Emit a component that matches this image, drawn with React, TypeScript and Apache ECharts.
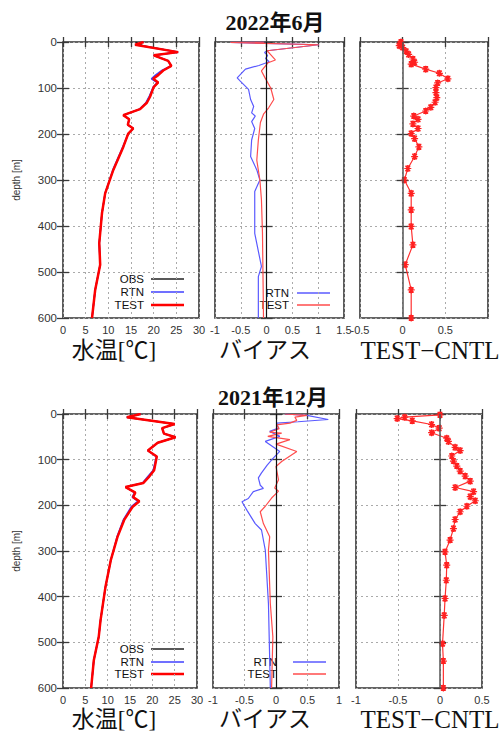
import React, { useEffect, useRef } from 'react';
import * as echarts from 'echarts';

// ---------- Data: 2022年6月 ----------
// Water temperature [°C]
const obsDepthJun = [0, 8, 22, 29, 41, 52, 62, 72, 80, 88, 98, 119, 132, 146, 159, 168, 180, 188, 199, 228, 278, 329, 372, 437, 484, 539, 600];
const obsTempJun = [16.0, 17.6, 25.3, 20.0, 23.2, 23.9, 22.0, 20.8, 19.8, 21.0, 20.0, 19.1, 18.4, 16.9, 13.3, 14.6, 14.3, 15.5, 14.4, 13.3, 11.1, 9.3, 8.6, 8.0, 8.2, 7.1, 6.4];
const tempDepthJun = [0, 6, 22, 29, 41, 52, 62, 72, 80, 88, 98, 119, 132, 146, 159, 168, 180, 188, 199, 228, 278, 329, 372, 437, 484, 539, 600];
const rtnTempJun = [17.8, 15.9, 25.4, 20.0, 23.2, 23.8, 21.8, 20.4, 19.5, 20.8, 19.9, 19.0, 18.3, 16.9, 13.3, 14.6, 14.3, 15.5, 14.4, 13.2, 11.0, 9.3, 8.6, 8.0, 8.2, 7.1, 6.4];
const testTempJun = [17.8, 15.9, 25.4, 20.0, 23.2, 23.9, 22.1, 21.0, 19.9, 21.0, 20.0, 19.2, 18.5, 17.0, 13.3, 14.6, 14.3, 15.5, 14.4, 13.3, 11.1, 9.3, 8.6, 8.0, 8.2, 7.1, 6.4];
// Bias
const rtnBiasDepthJun = [0, 1, 6, 19, 23, 29, 36, 43, 51, 59, 78, 85, 103, 125, 140, 154, 161, 173, 188, 213, 249, 278, 300, 325, 416, 488, 510, 600];
const rtnBiasJun = [-0.05, -0.70, 1.01, 0.01, -0.04, 0.02, -0.02, 0.05, -0.15, -0.41, -0.57, -0.51, -0.35, -0.31, -0.25, -0.29, -0.22, -0.29, -0.23, -0.29, -0.31, -0.19, -0.13, -0.23, -0.23, -0.10, -0.16, -0.16];
const testBiasDepthJun = [0, 1, 6, 19, 30, 39, 45, 63, 78, 100, 125, 143, 157, 175, 213, 257, 300, 343, 416, 600];
const testBiasJun = [-0.05, -0.70, 1.01, 0.01, 0.10, 0.17, 0.03, -0.10, -0.03, 0.08, 0.14, 0.04, -0.06, -0.12, -0.16, -0.19, -0.13, -0.10, -0.08, -0.06];
// TEST − CNTL
const diffDepthJun = [0, 4, 8, 12, 20, 27, 37, 44, 48, 59, 68, 80, 89, 99, 110, 121, 131, 142, 150, 161, 168, 178, 188, 199, 210, 228, 249, 275, 300, 329, 365, 401, 441, 484, 539, 600];
const diffJun = [-0.02, -0.03, -0.04, 0.0, 0.04, 0.07, 0.12, 0.14, 0.10, 0.27, 0.43, 0.53, 0.41, 0.39, 0.39, 0.40, 0.38, 0.33, 0.27, 0.13, 0.18, 0.12, 0.18, 0.10, 0.14, 0.19, 0.14, 0.06, 0.02, 0.10, 0.10, 0.10, 0.12, 0.03, 0.10, 0.10];

// ---------- Data: 2021年12月 ----------
const tempDepthDec = [0, 7, 22, 31, 43, 51, 63, 80, 93, 123, 137, 151, 160, 172, 182, 191, 203, 232, 269, 320, 379, 452, 488, 539, 600];
const obsTempDec = [17.4, 14.3, 25.0, 22.2, 22.6, 25.2, 21.2, 19.0, 21.0, 20.4, 19.3, 18.0, 14.0, 16.2, 15.7, 17.0, 15.6, 13.6, 12.2, 10.7, 9.5, 8.4, 8.0, 6.9, 6.3];
const rtnTempDec = [17.4, 14.3, 25.0, 22.2, 22.6, 25.2, 21.2, 19.0, 20.9, 20.2, 19.0, 17.8, 14.0, 16.0, 15.5, 16.8, 15.3, 13.5, 12.1, 10.7, 9.5, 8.4, 8.0, 6.9, 6.3];
const testTempDec = [17.4, 14.3, 25.0, 22.2, 22.6, 25.2, 21.2, 19.0, 21.0, 20.4, 19.3, 18.0, 14.0, 16.2, 15.7, 17.1, 15.6, 13.7, 12.2, 10.7, 9.5, 8.4, 8.0, 6.9, 6.3];
const rtnBiasDepthDec = [0, 3, 12, 17, 20, 31, 38, 49, 60, 82, 96, 112, 129, 140, 156, 163, 170, 185, 192, 211, 240, 254, 298, 415, 600];
const rtnBiasDec = [0.14, 0.49, 0.83, 0.35, 0.01, 0.04, -0.10, 0.06, -0.17, 0.06, -0.04, -0.14, -0.23, -0.28, -0.25, -0.20, -0.36, -0.44, -0.54, -0.46, -0.33, -0.23, -0.17, -0.12, -0.09];
const testBiasDepthDec = [0, 3, 7, 14, 20, 24, 32, 40, 42, 49, 56, 66, 82, 104, 115, 144, 162, 169, 184, 202, 214, 240, 269, 298, 415, 488, 600];
const testBiasDec = [0.14, 0.49, 0.30, 0.33, 0.22, 0.01, 0.05, -0.10, 0.09, -0.13, 0.22, 0.0, 0.33, 0.09, 0.0, 0.04, -0.02, 0.04, -0.07, -0.17, -0.25, -0.20, -0.10, -0.12, -0.09, -0.05, -0.07];
const diffDepthDec = [2, 7, 10, 15, 23, 31, 41, 53, 60, 73, 80, 92, 103, 114, 125, 136, 147, 161, 170, 181, 190, 202, 214, 231, 251, 276, 302, 331, 364, 404, 441, 503, 541, 600];
const diffDec = [0.0, -0.42, -0.51, -0.33, -0.10, -0.01, -0.10, 0.08, 0.10, 0.18, 0.24, 0.14, 0.16, 0.20, 0.24, 0.30, 0.36, 0.18, 0.40, 0.36, 0.42, 0.32, 0.24, 0.18, 0.16, 0.12, 0.06, 0.08, 0.075, 0.06, 0.05, 0.03, 0.04, 0.04];

// ---------- Axis settings ----------
const xRanges: [number, number, number][] = [
  [0, 30, 5],
  [-1, 1.5, 0.5],
  [-0.5, 1, 0.5],
  [0, 30, 5],
  [-1, 1, 0.5],
  [-1, 0.5, 0.5],
];
const titles = ['2022年6月', '2021年12月'];
const panelLabels = ['水温[℃]', 'バイアス', 'TEST−CNTL'];

const W = 502;
const H = 731;

const gridBoxes = [
  { left: 63, top: 42, width: 136, height: 276 },
  { left: 215, top: 42, width: 129, height: 276 },
  { left: 360, top: 42, width: 128, height: 276 },
  { left: 63, top: 414, width: 134, height: 274 },
  { left: 213, top: 414, width: 126, height: 274 },
  { left: 356, top: 414, width: 126, height: 274 },
];

const SANS = '"Liberation Sans", Arial, sans-serif';
const SERIF = '"Liberation Serif", "Noto Sans CJK JP", serif';
const AX = '#3a3a3a';

const pair = (depths: number[], vals: number[]) => vals.map((v, i) => [v, depths[i]]);

const STAR = 'path://M5,0L5,10M0,5L10,5M1.5,1.5L8.5,8.5M1.5,8.5L8.5,1.5M1.5,1.5L8.5,1.5M1.5,8.5L8.5,8.5';

function buildOption() {
  const xAxis: any[] = [];
  const yAxis: any[] = [];
  gridBoxes.forEach((_, i) => {
    const [mn, mx, iv] = xRanges[i];
    xAxis.push({
      type: 'value', gridIndex: i, position: 'bottom', min: mn, max: mx, interval: iv,
      axisLine: { show: false },
      axisTick: { show: true, inside: true, length: 5, lineStyle: { color: AX, width: 1.3 } },
      axisLabel: {
        show: true, margin: 6, fontSize: 11, color: '#333', fontFamily: SANS,
        formatter: (v: number) => (i === 2 && v === 1 ? '' : String(v)),
      },
      splitLine: { show: true, lineStyle: { color: '#aaa', width: 1, type: [2, 3] } },
    });
    xAxis.push({
      type: 'value', gridIndex: i, position: 'top', min: mn, max: mx, interval: iv,
      axisLine: { show: false },
      axisTick: { show: true, inside: true, length: 5, lineStyle: { color: AX, width: 1.3 } },
      axisLabel: { show: false },
      splitLine: { show: false },
    });
    const first = i === 0 || i === 3;
    yAxis.push({
      type: 'value', gridIndex: i, position: 'left', min: 0, max: 600, interval: 100, inverse: true,
      name: first ? 'depth [m]' : '', nameLocation: 'middle', nameGap: 42, nameRotate: 90,
      nameTextStyle: { fontSize: 10, color: '#333', fontFamily: SANS },
      axisLine: { show: false },
      axisTick: { show: true, inside: true, length: 6, lineStyle: { color: AX, width: 1.3 } },
      axisLabel: { show: first, margin: 6, fontSize: 11.5, color: '#333', fontFamily: SANS },
      splitLine: { show: true, lineStyle: { color: '#aaa', width: 1, type: [2, 3] } },
    });
    yAxis.push({
      type: 'value', gridIndex: i, position: 'right', min: 0, max: 600, interval: 100, inverse: true,
      axisLine: { show: false },
      axisTick: { show: true, inside: true, length: 6, lineStyle: { color: AX, width: 1.3 } },
      axisLabel: { show: false },
      splitLine: { show: false },
    });
  });

  const lineS = (name: string, panel: number, data: number[][], color: string, width: number, z = 2, extra: any = {}) => ({
    name, type: 'line', xAxisIndex: panel * 2, yAxisIndex: panel * 2, data,
    symbol: 'none', showSymbol: false, z,
    lineStyle: { color, width }, itemStyle: { color },
    ...extra,
  });

  const zeroLine = (color: string, width: number) => ({
    silent: true, symbol: ['none', 'none'], label: { show: false },
    lineStyle: { color, width, type: 'solid' },
    data: [{ xAxis: 0 }],
  });

  const diffS = (panel: number, data: number[][]) => ({
    name: 'TEST−CNTL', type: 'line', xAxisIndex: panel * 2, yAxisIndex: panel * 2, data,
    symbol: STAR, symbolSize: 7, showSymbol: true, z: 3,
    lineStyle: { color: '#ff3030', width: 1.2 },
    itemStyle: { color: '#ff2020', borderColor: '#ff2020', borderWidth: 1.2 },
    markLine: zeroLine('#555', 1.5),
  });

  const series: any[] = [
    lineS('OBS', 0, pair(obsDepthJun, obsTempJun), '#222', 1.4, 2),
    lineS('RTN', 0, pair(tempDepthJun, rtnTempJun), '#4040ff', 1.6, 3),
    lineS('TEST', 0, pair(tempDepthJun, testTempJun), '#ff0000', 2.5, 4),
    lineS('RTN', 1, pair(rtnBiasDepthJun, rtnBiasJun), '#5a5aff', 1.2, 3, { markLine: zeroLine('#111', 1.2) }),
    lineS('TEST', 1, pair(testBiasDepthJun, testBiasJun), '#ff4d4d', 1.2, 4),
    diffS(2, pair(diffDepthJun, diffJun)),
    lineS('OBS', 3, pair(tempDepthDec, obsTempDec), '#222', 1.4, 2),
    lineS('RTN', 3, pair(tempDepthDec, rtnTempDec), '#4040ff', 1.6, 3),
    lineS('TEST', 3, pair(tempDepthDec, testTempDec), '#ff0000', 2.5, 4),
    lineS('RTN', 4, pair(rtnBiasDepthDec, rtnBiasDec), '#5a5aff', 1.2, 3, { markLine: zeroLine('#111', 1.2) }),
    lineS('TEST', 4, pair(testBiasDepthDec, testBiasDec), '#ff4d4d', 1.2, 4),
    diffS(5, pair(diffDepthDec, diffDec)),
  ];

  const graphic: any[] = [];
  const txt = (text: string, x: number, y: number, font: string, align = 'center') => ({
    type: 'text', x, y, silent: true,
    style: { text, font, fill: '#111', textAlign: align, textVerticalAlign: 'middle' },
  });
  const seg = (x1: number, x2: number, y: number, stroke: string, lineWidth: number) => ({
    type: 'line', silent: true, shape: { x1, y1: y, x2, y2: y }, style: { stroke, lineWidth },
  });

  // titles
  graphic.push(txt(titles[0], 275, 22, `bold 22px ${SERIF}`));
  graphic.push(txt(titles[1], 273, 397, `bold 22px ${SERIF}`));
  // panel labels
  [350, 719].forEach((y) => {
    graphic.push(txt(panelLabels[0], 114, y, `23px ${SERIF}`));
    graphic.push(txt(panelLabels[1], 265, y, `23px ${SERIF}`));
    graphic.push(txt(panelLabels[2], 430, y, `25px ${SERIF}`));
  });
  // legends
  const lf = `11.5px ${SANS}`;
  const leg1 = (ys: number[]) => {
    graphic.push(txt('OBS', 144, ys[0], lf, 'right'));
    graphic.push(seg(151, 184, ys[0], '#222', 1.3));
    graphic.push(txt('RTN', 144, ys[1], lf, 'right'));
    graphic.push(seg(151, 184, ys[1], '#4040ff', 1.5));
    graphic.push(txt('TEST', 144, ys[2], lf, 'right'));
    graphic.push(seg(151, 184, ys[2], '#ff0000', 2.5));
  };
  leg1([279, 292, 305]);
  leg1([649, 662, 674]);
  const leg2 = (xr: number, x1: number, x2: number, ys: number[]) => {
    graphic.push(txt('RTN', xr, ys[0], lf, 'right'));
    graphic.push(seg(x1, x2, ys[0], '#5a5aff', 1.3));
    graphic.push(txt('TEST', xr, ys[1], lf, 'right'));
    graphic.push(seg(x1, x2, ys[1], '#ff4d4d', 1.3));
  };
  leg2(289, 297, 330, [293, 305]);
  leg2(277, 293, 326, [662, 674]);

  return {
    animation: false,
    backgroundColor: '#fff',
    grid: gridBoxes.map((g) => ({ ...g, show: true, borderColor: '#333', borderWidth: 1.6, backgroundColor: 'transparent', containLabel: false })),
    xAxis,
    yAxis,
    series,
    graphic,
  };
}

export default function App() {
  const ref = useRef<HTMLDivElement>(null);
  useEffect(() => {
    const chart = echarts.init(ref.current!, null, { renderer: 'svg', width: W, height: H });
    chart.setOption(buildOption());
    return () => chart.dispose();
  }, []);
  return <div ref={ref} style={{ position: 'fixed', left: 0, top: 0, width: W, height: H, background: '#fff' }} />;
}
